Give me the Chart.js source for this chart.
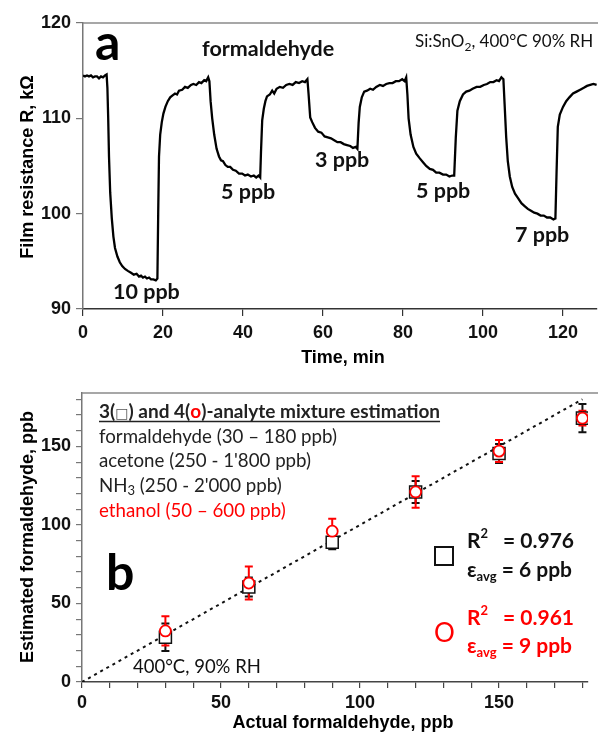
<!DOCTYPE html>
<html><head><meta charset="utf-8">
<script src="https://cdn.jsdelivr.net/npm/chart.js@4"></script>
<style>
html,body{margin:0;padding:0;background:#fff;}
#w1{position:absolute;left:0;top:0;width:598px;height:370px;}
#w2{position:absolute;left:0;top:370px;width:598px;height:368px;}
</style></head><body>
<div id="w1"><canvas id="c1" width="598" height="370"></canvas></div>
<div id="w2"><canvas id="c2" width="598" height="368"></canvas></div>
<script>
// ---- Panel a: film resistance vs time ----
const timeMin = [0,0.5,1,1.5,2,2.5,3,3.5,4,4.5,5,5.5,5.9,
 6.1,6.3,6.5,6.8,7.2,7.6,8.0,8.6,9.2,9.8,10.5,11.2,12,12.7,13.4,14,14.5,15,15.5,16,16.5,17,17.6,18.2,18.6,
 18.8,19.0,19.3,19.7,20.1,20.6,21.2,21.8,22.4,23,23.5,24,24.8,25.5,26.2,27,27.6,28.3,29,29.6,30.3,30.8,31.3,31.6,
 31.9,32.3,32.8,33.4,34.0,34.5,35.0,35.6,36.2,36.8,37.5,38.2,39.0,39.8,40.5,41.2,42,42.7,43.3,43.9,44.3,
 44.5,44.8,45.2,45.6,46.0,46.7,47.3,47.8,48.4,49.2,50,50.8,51.6,52.4,53.2,54,54.8,55.5,56.1,
 56.4,56.8,57.3,58,58.8,59.6,60.4,61.2,62,62.8,63.6,64.4,65.2,66,66.8,67.5,68.2,68.6,
 68.9,69.2,69.7,70.3,71,71.8,72.5,73.3,74.2,75,75.8,76.6,77.4,78.2,79,79.8,80.4,80.8,
 81.1,81.4,81.9,82.6,83.3,84.2,85,85.8,86.7,87.5,88.3,89.1,90,90.8,91.6,92.3,92.8,
 93.2,93.6,94.2,95,95.8,96.6,97.4,98.4,99.3,100.2,101,101.8,102.6,103.4,104,104.6,105.1,
 105.4,105.8,106.2,106.7,107.3,108,108.8,109.6,110.4,111.2,112,112.8,113.6,114.4,115.2,116,116.8,117.6,118.1,
 118.4,118.7,119.2,120,120.8,121.6,122.5,123.4,124.3,125.2,126,126.8,127.6,128.4];
const resistanceK = [114.5,114.4,114.5,114.4,114.5,114.3,114.4,114.4,114.2,114.4,114.3,114.5,114.6,
 113.2,110.0,106.0,102.2,99.5,97.6,96.4,95.5,94.9,94.5,94.2,94.0,93.8,93.6,93.7,93.4,93.5,93.3,93.4,93.2,93.3,93.1,93.1,93.0,93.2,
 100.0,106.0,108.3,109.6,110.5,111.2,111.8,112.2,112.4,112.6,112.5,112.9,113.0,113.3,113.2,113.5,113.6,113.5,113.8,113.7,114.0,113.9,114.3,113.9,
 111.8,110.0,108.3,106.8,106.0,105.6,105.5,105.1,104.9,104.9,104.6,104.5,104.2,104.2,104.0,104.1,103.9,104.0,103.8,104.0,103.8,
 106.5,109.8,111.0,111.8,112.3,112.5,112.9,112.6,113.1,113.3,113.2,113.5,113.6,113.5,113.8,113.7,113.9,113.8,114.1,
 112.5,110.1,109.6,109.0,108.6,108.5,108.1,108.0,107.9,107.7,107.5,107.5,107.3,107.2,107.1,106.9,107.0,106.8,
 109.5,111.2,112.2,112.8,112.9,113.1,113.0,113.3,113.5,113.4,113.6,113.7,113.7,113.9,113.9,114.1,113.9,114.3,
 112.5,110.0,108.3,107.0,106.3,105.8,105.4,105.0,104.7,104.6,104.3,104.3,104.1,104.1,103.9,104.0,104.0,
 108.0,110.8,111.8,112.5,112.8,112.9,113.1,113.3,113.3,113.5,113.6,113.8,113.8,114.0,113.9,114.3,114.1,
 111.5,108.0,105.5,103.9,102.8,102.1,101.6,101.1,100.8,100.5,100.3,100.1,100.0,99.8,99.8,99.6,99.6,99.4,99.5,
 104.5,109.1,110.4,111.2,111.8,112.2,112.6,112.8,113.0,113.2,113.4,113.5,113.6,113.5];
const pulseLabels = ["10 ppb","5 ppb","3 ppb","5 ppb","7 ppb"];

// ---- Panel b: estimated vs actual formaldehyde ----
const actualPpb = [30,60,90,120,150,180];
const est3 = [28.5,60.5,89,121,145.5,168];
const err3 = [8.8,6,4.5,7,6,9];
const est4 = [32.5,63,96,121,147,168];
const err4 = [9.3,10.5,8,10,7,4.7];
const idealX = [0,180];
const idealY = [0,180];
const mixLines = ["formaldehyde (30 \u2013 180 ppb)","acetone (250 - 1'800 ppb)","ethanol (50 \u2013 600 ppb)"];

const ARIAL = '"Liberation Sans", Arial, sans-serif';
const CAL = 'Lato, "Open Sans", sans-serif';
const tickFont = {family: ARIAL, size: 18, weight: 'bold'};

function runs(ctx, x, y, parts) {
  let cx = x;
  for (const p of parts) {
    ctx.font = p.font; ctx.fillStyle = p.color || '#111';
    ctx.fillText(p.t, cx, y + (p.dy || 0));
    cx += ctx.measureText(p.t).width;
  }
  return cx;
}
function vtext(ctx, t, cx, cy, font) {
  ctx.save(); ctx.translate(cx, cy); ctx.rotate(-Math.PI/2);
  ctx.font = font; ctx.fillStyle = '#000'; ctx.textAlign = 'center'; ctx.textBaseline = 'alphabetic';
  ctx.fillText(t, 0, 0); ctx.restore();
}
const topLine = {
  id: 'topLine',
  afterDraw(chart) {
    const {ctx, chartArea: a} = chart;
    ctx.save(); ctx.strokeStyle = '#8a8a8a'; ctx.lineWidth = 1.5;
    ctx.beginPath(); ctx.moveTo(a.left, a.top); ctx.lineTo(598, a.top); ctx.stroke(); ctx.restore();
  }
};

// Panel a
new Chart(document.getElementById('c1'), {
  type: 'line',
  data: { datasets: [{
    data: timeMin.map((t, i) => ({x: t, y: resistanceK[i]})),
    borderColor: '#000', borderWidth: 2.3, pointRadius: 0, tension: 0, fill: false
  }]},
  options: {
    responsive: false, animation: false, devicePixelRatio: 1,
    layout: {padding: {top: 23, right: 1, left: 0, bottom: 0}},
    plugins: {legend: {display: false}, tooltip: {enabled: false}},
    scales: {
      x: {type: 'linear', min: 0, max: 128.5,
        ticks: {stepSize: 20, includeBounds: false, font: tickFont, color: '#111', padding: 6, maxRotation: 0},
        grid: {drawOnChartArea: false, tickLength: 7, color: '#333', lineWidth: 1.2},
        border: {color: '#333', width: 1.5},
        afterFit(s) { s.height = 61; }},
      y: {min: 90, max: 120,
        ticks: {stepSize: 10, font: tickFont, color: '#111', padding: 5},
        grid: {drawOnChartArea: false, tickLength: 7, color: '#777', lineWidth: 1.2},
        border: {color: '#777', width: 1.5},
        afterFit(s) { s.width = 83; }}
    }
  },
  plugins: [topLine, {
    id: 'annA',
    afterDraw(chart) {
      const ctx = chart.ctx; ctx.save(); ctx.textBaseline = 'alphabetic';
      runs(ctx, 95, 60, [{t: 'a', font: 'bold 50px ' + CAL, color: '#000'}]);
      runs(ctx, 202, 56, [{t: 'formaldehyde', font: 'bold 21.5px ' + CAL, color: '#111'}]);
      const f = '17px ' + CAL, fs = '12px ' + CAL;
      runs(ctx, 415, 47, [{t: 'Si:SnO', font: f}, {t: '2', font: fs, dy: 4}, {t: ', 400\u00B0C 90% RH', font: f}]);
      const lf = 'bold 21.5px ' + CAL;
      const pos = [[113,299],[221,199],[315,167],[416,198],[515,242]];
      pulseLabels.forEach((t, i) => runs(ctx, pos[i][0], pos[i][1], [{t, font: lf, color: '#111'}]));
      vtext(ctx, 'Film resistance R, k\u03A9', 33, 167, 'bold 18px ' + ARIAL);
      ctx.font = 'bold 18px ' + ARIAL; ctx.fillStyle = '#000'; ctx.textAlign = 'center';
      ctx.fillText('Time, min', 343, 363);
      ctx.restore();
    }
  }]
});

// Panel b
const errBars = {
  id: 'errBars',
  beforeDatasetsDraw(chart) {
    const {ctx, scales: {x, y}} = chart;
    ctx.save(); ctx.lineWidth = 2;
    const draw = (est, err, color) => {
      ctx.strokeStyle = color;
      actualPpb.forEach((a, i) => {
        const px = x.getPixelForValue(a), lo = y.getPixelForValue(est[i] - err[i]), hi = y.getPixelForValue(est[i] + err[i]);
        ctx.beginPath(); ctx.moveTo(px, lo); ctx.lineTo(px, hi);
        ctx.moveTo(px - 4, lo); ctx.lineTo(px + 4, lo);
        ctx.moveTo(px - 4, hi); ctx.lineTo(px + 4, hi); ctx.stroke();
      });
    };
    draw(est3, err3, '#111'); draw(est4, err4, '#ff0000');
    ctx.restore();
  }
};
new Chart(document.getElementById('c2'), {
  type: 'scatter',
  data: { datasets: [
    {data: actualPpb.map((a, i) => ({x: a, y: est4[i]})), pointStyle: 'circle', pointRadius: 5.5,
      borderColor: '#ff0000', backgroundColor: '#fff', pointBorderWidth: 1.8, showLine: false},
    {data: actualPpb.map((a, i) => ({x: a, y: est3[i]})), pointStyle: 'rect', pointRadius: 8.5,
      borderColor: '#111', backgroundColor: '#fff', pointBorderWidth: 1.5, showLine: false},
    {data: idealX.map((a, i) => ({x: a, y: idealY[i]})), showLine: true, pointRadius: 0,
      borderColor: '#111', borderWidth: 2, borderDash: [3, 4], fill: false}
  ]},
  options: {
    responsive: false, animation: false, devicePixelRatio: 1,
    layout: {padding: {top: 23, right: 1, left: 0, bottom: 0}},
    plugins: {legend: {display: false}, tooltip: {enabled: false}},
    scales: {
      x: {type: 'linear', min: 0, max: 182,
        ticks: {stepSize: 10, includeBounds: false, autoSkip: false, font: tickFont, color: '#111', padding: 4, maxRotation: 0,
          callback: v => (v % 50 === 0 ? String(v) : '')},
        grid: {drawOnChartArea: false, tickLength: 6, color: '#444', lineWidth: 1.2},
        border: {color: '#444', width: 1.5},
        afterFit(s) { s.height = 56; }},
      y: {min: 0, max: 184,
        ticks: {stepSize: 10, includeBounds: false, autoSkip: false, font: tickFont, color: '#111', padding: 5,
          callback: v => (v % 50 === 0 ? String(v) : '')},
        grid: {drawOnChartArea: false, tickLength: 6, color: '#777', lineWidth: 1.2},
        border: {color: '#777', width: 1.5},
        afterFit(s) { s.width = 82; }}
    }
  },
  plugins: [topLine, errBars, {
    id: 'annB',
    afterDraw(chart) {
      const ctx = chart.ctx; ctx.save(); ctx.textBaseline = 'alphabetic';
      const o = -370;
      const hb = 'bold 19px ' + CAL, nf = '18.7px ' + CAL;
      const end = runs(ctx, 99, 418 + o, [
        {t: '3(', font: hb, color: '#222'}, {t: '\u25A1', font: '14px "DejaVu Sans"', color: '#555'},
        {t: ') and 4(', font: hb, color: '#222'}, {t: 'o', font: hb, color: '#ff0000'},
        {t: ')-analyte mixture estimation', font: hb, color: '#222'}]);
      ctx.strokeStyle = '#222'; ctx.lineWidth = 1.3; ctx.beginPath(); ctx.moveTo(99, 421.5 + o); ctx.lineTo(end, 421.5 + o); ctx.stroke();
      runs(ctx, 99, 443 + o, [{t: mixLines[0], font: nf, color: '#222'}]);
      runs(ctx, 99, 467 + o, [{t: mixLines[1], font: nf, color: '#222'}]);
      runs(ctx, 99, 492 + o, [{t: 'NH', font: nf, color: '#222'}, {t: '3', font: '13px ' + CAL, color: '#222', dy: 3}, {t: " (250 - 2'000 ppb)", font: nf, color: '#222'}]);
      runs(ctx, 99, 517 + o, [{t: mixLines[2], font: nf, color: '#ff0000'}]);
      runs(ctx, 106, 590 + o, [{t: 'b', font: 'bold 50px ' + CAL, color: '#000'}]);
      runs(ctx, 133, 673 + o, [{t: '400\u00B0C, 90% RH', font: '18.5px ' + CAL, color: '#111'}]);
      ctx.strokeStyle = '#111'; ctx.lineWidth = 2; ctx.strokeRect(435, 547 + o, 18, 18);
      const bf = 'bold 21px ' + CAL, sf = 'bold 13px ' + CAL;
      const stat = (y1, y2, r2, eps, col) => {
        runs(ctx, 467, y1 + o, [{t: 'R', font: bf, color: col}, {t: '2', font: sf, color: col, dy: -10}]);
        runs(ctx, 503, y1 + o, [{t: '= ' + r2, font: bf, color: col}]);
        runs(ctx, 467, y2 + o, [{t: '\u03B5', font: bf, color: col}, {t: 'avg', font: sf, color: col, dy: 4}, {t: ' = ' + eps + ' ppb', font: bf, color: col}]);
      };
      stat(548, 577, '0.976', 6, '#111');
      runs(ctx, 434, 642 + o, [{t: 'O', font: '26px ' + CAL, color: '#ff0000'}]);
      stat(625, 653, '0.961', 9, '#ff0000');
      vtext(ctx, 'Estimated formaldehyde, ppb', 33, 537 + o, 'bold 18px ' + ARIAL);
      ctx.font = 'bold 18px ' + ARIAL; ctx.fillStyle = '#000'; ctx.textAlign = 'center';
      ctx.fillText('Actual formaldehyde, ppb', 343, 728 + o);
      ctx.restore();
    }
  }]
});
</script>
</body></html>
